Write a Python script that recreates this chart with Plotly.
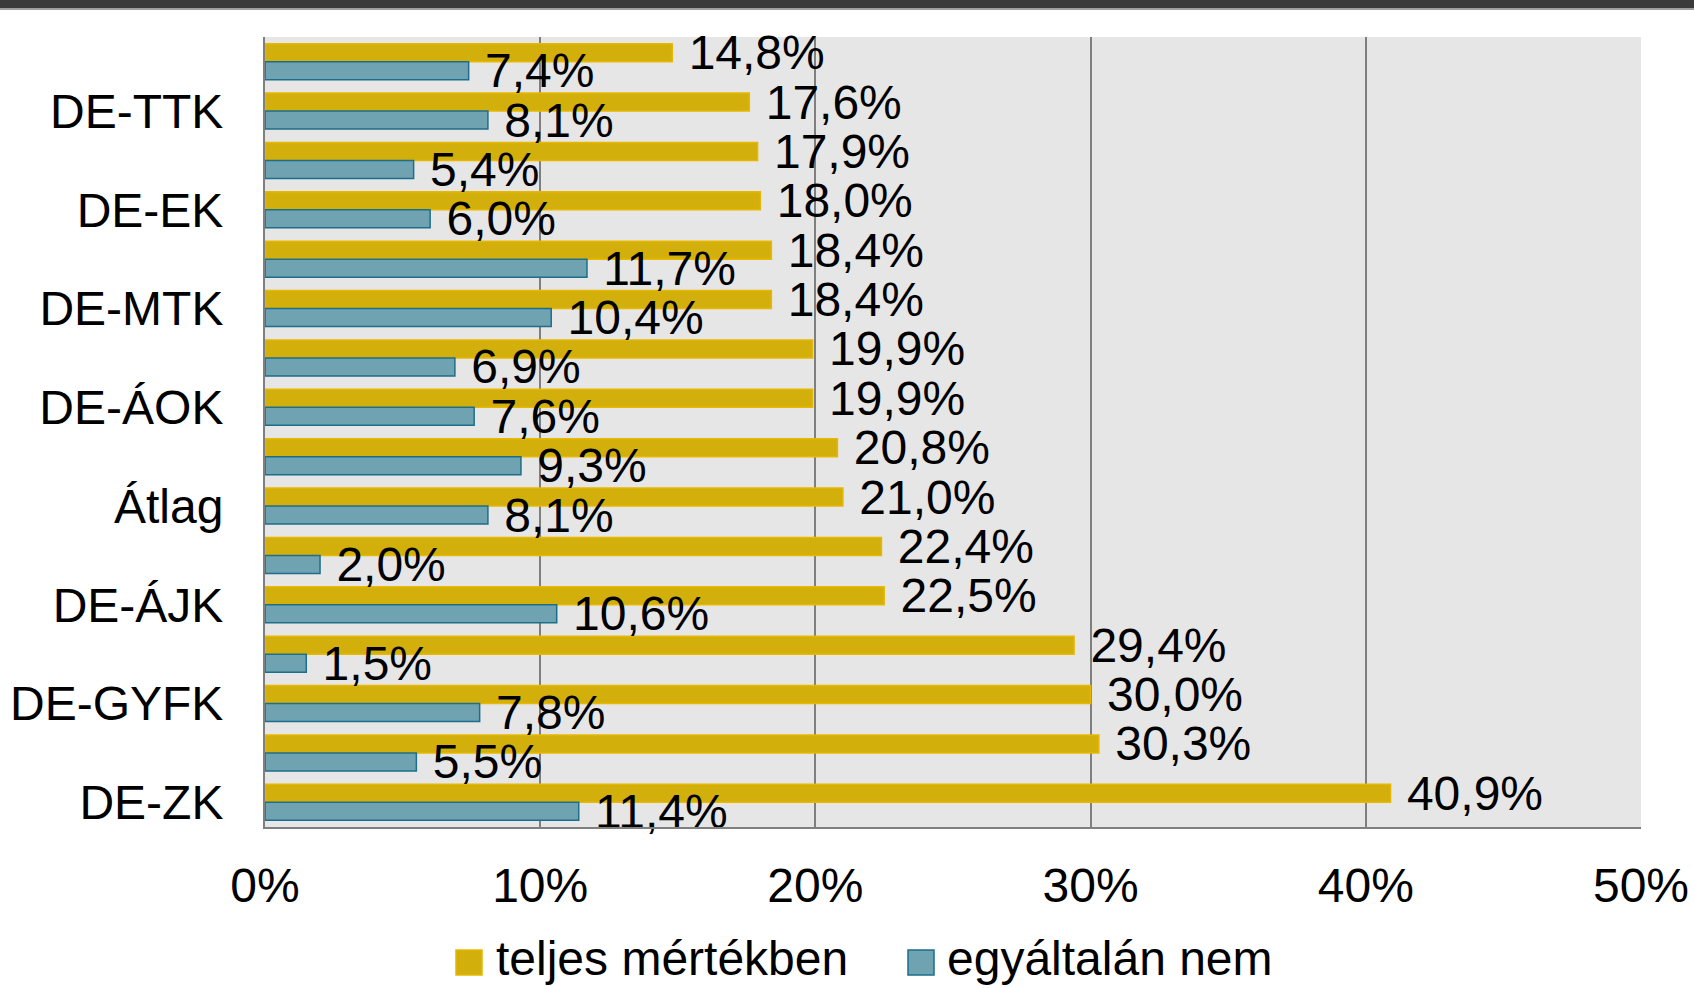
import plotly.graph_objects as go

# rows from top to bottom, only every second row carries a label
rows = list(range(1, 17))
row_labels = ["DE-TTK", "DE-EK", "DE-MTK", "DE-ÁOK", "Átlag", "DE-ÁJK", "DE-GYFK", "DE-ZK"]
label_rows = [2, 4, 6, 8, 10, 12, 14, 16]

series_names = ["teljes mértékben", "egyáltalán nem"]
teljes = [14.8, 17.6, 17.9, 18.0, 18.4, 18.4, 19.9, 19.9,
          20.8, 21.0, 22.4, 22.5, 29.4, 30.0, 30.3, 40.9]
egyaltalan = [7.4, 8.1, 5.4, 6.0, 11.7, 10.4, 6.9, 7.6,
              9.3, 8.1, 2.0, 10.6, 1.5, 7.8, 5.5, 11.4]

fills = ["#D2AF0B", "#6FA3B1"]
edges = ["#E8B800", "#1D6E8A"]

W, H = 1694, 988
L, R, T, B = 265, 53, 37, 161
pw, ph = W - L - R, H - T - B

font = "Liberation Sans, Arial, sans-serif"
fs = 48


def px_x(x):
    return (x - L) / pw


def px_y(y):
    return (T + ph - y) / ph


fig = go.Figure()
for name, vals, fc, ec in zip(series_names, [teljes, egyaltalan], fills, edges):
    fig.add_trace(go.Bar(
        y=rows, x=vals, orientation="h", name=name, showlegend=False,
        marker=dict(color=fc, line=dict(color=ec, width=1.5)),
        texttemplate=" %{x:.1f}%", textposition="outside", constraintext="none",
        cliponaxis=False, textfont=dict(size=fs, color="black", family=font),
    ))

# legend drawn by hand so the swatches get the original size
legend_sq = [456, 908]
legend_tx = [495, 946]
for name, fc, ec, sx, tx in zip(series_names, fills, edges, legend_sq, legend_tx):
    fig.add_shape(type="rect", xref="paper", yref="paper",
                  x0=px_x(sx), x1=px_x(sx + 26), y0=px_y(975), y1=px_y(950),
                  fillcolor=fc, line=dict(color=ec, width=1.5))
    fig.add_annotation(text=name, xref="paper", yref="paper", x=px_x(tx), y=px_y(958),
                       xanchor="left", yanchor="middle", showarrow=False, borderpad=0,
                       font=dict(size=fs, color="black", family=font))

# dark band at the top of the page
fig.add_shape(type="rect", xref="paper", yref="paper",
              x0=px_x(0), x1=px_x(W), y0=px_y(8.5), y1=px_y(-2),
              fillcolor="#3A3A3A", line_width=0, layer="above")
fig.add_shape(type="rect", xref="paper", yref="paper",
              x0=px_x(0), x1=px_x(W), y0=px_y(10), y1=px_y(8.5),
              fillcolor="#A0A0A0", line_width=0, layer="above")

fig.update_layout(
    width=W, height=H,
    margin=dict(l=L, r=R, t=T, b=B, autoexpand=False),
    barmode="group", bargap=0.27, bargroupgap=0,
    separators=", ",
    plot_bgcolor="#E6E6E6", paper_bgcolor="white",
    font=dict(family=font, size=fs, color="black"),
    xaxis=dict(range=[0, 50], dtick=10, ticksuffix="%", showgrid=True,
               gridcolor="#7F7F7F", gridwidth=1.5, zeroline=False,
               showline=True, linecolor="#7F7F7F", linewidth=2,
               ticks="", ticklabelstandoff=15, tickfont=dict(size=fs)),
    yaxis=dict(tickvals=label_rows, ticktext=row_labels, autorange=False,
               range=[16.5, 0.5], showgrid=False, zeroline=False,
               showline=True, linecolor="#7F7F7F", linewidth=2,
               ticks="", ticklabelstandoff=30, tickfont=dict(size=fs)),
)

fig.write_html("out.html", config={"displayModeBar": False},
               post_script="document.body.style.margin='0';")
